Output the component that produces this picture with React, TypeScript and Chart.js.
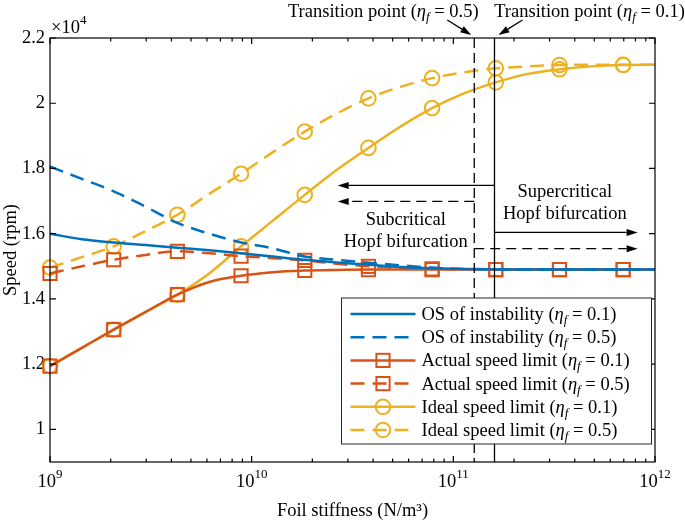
import React, { useEffect, useRef } from 'react';
import { Chart, registerables } from 'chart.js';

Chart.register(...registerables);

// ---------- data ----------
// Foil stiffness (N/m^3), 20 log-spaced samples
const stiffness = [
  1.0e9, 1.4384e9, 2.0691e9, 2.9764e9, 4.2813e9, 6.1585e9, 8.8587e9, 1.2743e10, 1.833e10, 2.6367e10,
  3.7927e10, 5.4556e10, 7.8476e10, 1.1288e11, 1.6238e11, 2.3357e11, 3.3598e11, 4.8329e11, 6.9519e11, 1.0e12,
];

// Speeds in rpm
const osEta01 = [16000, 15830, 15730, 15650, 15570, 15490, 15400, 15300, 15200, 15120, 15050, 14980, 14940, 14920, 14910, 14900, 14900, 14900, 14900, 14900];
const osEta05 = [18060, 17680, 17300, 16830, 16330, 16000, 15730, 15550, 15300, 15200, 15110, 15030, 14960, 14920, 14910, 14900, 14900, 14900, 14900, 14900];
const actualEta01 = [11940, 12500, 13060, 13600, 14130, 14520, 14710, 14820, 14870, 14890, 14900, 14900, 14900, 14900, 14900, 14900, 14900, 14900, 14900, 14900];
const actualEta05 = [14780, 15000, 15200, 15350, 15460, 15400, 15310, 15250, 15180, 15080, 15000, 14950, 14920, 14910, 14900, 14900, 14900, 14900, 14900, 14900];
const idealEta01 = [11940, 12500, 13060, 13600, 14130, 14780, 15610, 16400, 17190, 17950, 18630, 19280, 19850, 20300, 20640, 20900, 21040, 21130, 21170, 21180];
const idealEta05 = [14960, 15280, 15610, 16080, 16580, 17220, 17840, 18500, 19130, 19680, 20150, 20500, 20770, 20950, 21070, 21130, 21170, 21180, 21180, 21180];

const seriesNames = [
  'OS of instability',
  'OS of instability',
  'Actual speed limit',
  'Actual speed limit',
  'Ideal speed limit',
  'Ideal speed limit',
];
const seriesEta = ['0.1', '0.5', '0.1', '0.5', '0.1', '0.5'];

const xMajorTicks = [1e9, 1e10, 1e11, 1e12];
const xTickExponents = ['9', '10', '11', '12'];
const yTicks = [10000, 12000, 14000, 16000, 18000, 20000, 22000];

// transition points (N/m^3)
const transitionEta05 = 1.27e11;
const transitionEta01 = 1.6e11;

// annotation anchors in data space
const leftArrowTipX = 2.67e10;
const rightArrowTipX = 8.2e11;
const arrowSolidLeftY = 17480;
const arrowDashedLeftY = 16990;
const arrowSolidRightY = 16040;
const arrowDashedRightY = 15540;
const subTextX = 5.81e10;
const subTextY1 = 16255;
const subTextY2 = 15600;
const superTextX = 3.57e11;
const superTextY1 = 17120;
const superTextY2 = 16450;

// ---------- styles ----------
const BLUE = '#0072BD';
const RED = '#D95319';
const YELLOW = '#EDB120';
const FONT = '"Liberation Serif", "Times New Roman", serif';
const FS = 18.5;
const DASH = [14, 8];

type Part = { t: string; italic?: boolean; sub?: boolean; sup?: boolean };

function partFont(p: Part, size = FS) {
  const s = p.sub || p.sup ? Math.round(size * 0.7) : size;
  return `${p.italic ? 'italic ' : ''}${s}px ${FONT}`;
}

function drawRich(ctx: CanvasRenderingContext2D, parts: Part[], x: number, y: number, align: 'left' | 'center' | 'right', size = FS) {
  ctx.save();
  ctx.textBaseline = 'alphabetic';
  ctx.textAlign = 'left';
  const widths = parts.map((p) => {
    ctx.font = partFont(p, size);
    return ctx.measureText(p.t).width;
  });
  const total = widths.reduce((a, b) => a + b, 0);
  let cx = align === 'left' ? x : align === 'center' ? x - total / 2 : x - total;
  parts.forEach((p, i) => {
    ctx.font = partFont(p, size);
    const dy = p.sub ? 4 : p.sup ? -9 : 0;
    ctx.fillText(p.t, cx, y + dy);
    cx += widths[i];
  });
  ctx.restore();
}

function etaParts(prefix: string, eta: string): Part[] {
  return [{ t: prefix + ' (' }, { t: 'η', italic: true }, { t: 'f', italic: true, sub: true }, { t: ' = ' + eta + ')' }];
}

function arrow(ctx: CanvasRenderingContext2D, x1: number, y1: number, x2: number, y2: number, dashed: boolean) {
  const ang = Math.atan2(y2 - y1, x2 - x1);
  const hl = 11;
  const hw = 3.5;
  const bx = x2 - hl * Math.cos(ang);
  const by = y2 - hl * Math.sin(ang);
  ctx.save();
  ctx.strokeStyle = '#000';
  ctx.fillStyle = '#000';
  ctx.lineWidth = 1.3;
  ctx.setLineDash(dashed ? [10, 6] : []);
  ctx.beginPath();
  ctx.moveTo(x1, y1);
  ctx.lineTo(bx, by);
  ctx.stroke();
  ctx.setLineDash([]);
  ctx.beginPath();
  ctx.moveTo(x2, y2);
  ctx.lineTo(bx - hw * Math.sin(ang), by + hw * Math.cos(ang));
  ctx.lineTo(bx + hw * Math.sin(ang), by - hw * Math.cos(ang));
  ctx.closePath();
  ctx.fill();
  ctx.restore();
}

const markerIdx = (ctx: any) => ctx.dataIndex % 2 === 0 && ctx.dataIndex < stiffness.length - 1;

const decorPlugin = {
  id: 'decor',
  afterDatasetsDraw(chart: any) {
    const { ctx, chartArea, scales } = chart;
    const { left, right, top, bottom } = chartArea;
    const xs = scales.x;
    const ys = scales.y;
    ctx.save();
    // frame
    ctx.strokeStyle = '#000';
    ctx.lineWidth = 1.2;
    ctx.setLineDash([]);
    ctx.strokeRect(left, top, right - left, bottom - top);
    // x ticks
    ctx.beginPath();
    xMajorTicks.forEach((v) => {
      const px = xs.getPixelForValue(v);
      ctx.moveTo(px, bottom);
      ctx.lineTo(px, bottom - 6);
      ctx.moveTo(px, top);
      ctx.lineTo(px, top + 6);
    });
    for (let d = 0; d < xMajorTicks.length - 1; d++) {
      for (let m = 2; m <= 9; m++) {
        const px = xs.getPixelForValue(xMajorTicks[d] * m);
        ctx.moveTo(px, bottom);
        ctx.lineTo(px, bottom - 3.5);
        ctx.moveTo(px, top);
        ctx.lineTo(px, top + 3.5);
      }
    }
    yTicks.forEach((v) => {
      const py = ys.getPixelForValue(v);
      ctx.moveTo(left, py);
      ctx.lineTo(left + 6, py);
      ctx.moveTo(right, py);
      ctx.lineTo(right - 6, py);
    });
    ctx.stroke();

    // x tick labels (10^n)
    ctx.fillStyle = '#000';
    xMajorTicks.forEach((v, i) => {
      const px = xs.getPixelForValue(v);
      drawRich(ctx, [{ t: '10' }, { t: xTickExponents[i], sup: true }], px, bottom + 25, 'center');
    });
    // axis multiplier
    drawRich(ctx, [{ t: '×10' }, { t: '4', sup: true }], left + 1, top - 5, 'left');

    // transition lines
    const xd = xs.getPixelForValue(transitionEta05);
    const xsol = xs.getPixelForValue(transitionEta01);
    ctx.lineWidth = 1.3;
    ctx.setLineDash([10, 5]);
    ctx.beginPath();
    ctx.moveTo(xd, top);
    ctx.lineTo(xd, bottom);
    ctx.stroke();
    ctx.setLineDash([]);
    ctx.beginPath();
    ctx.moveTo(xsol, top);
    ctx.lineTo(xsol, bottom);
    ctx.stroke();

    // transition labels + arrows
    drawRich(ctx, etaParts('Transition point', '0.5'), xd - 91, top - 21, 'center');
    drawRich(ctx, etaParts('Transition point', '0.1'), xsol + 95, top - 21, 'center');
    arrow(ctx, xd - 27, top - 18, xd - 3, top - 3, false);
    arrow(ctx, xsol + 28, top - 18, xsol + 4, top - 3, false);

    // region arrows
    const xl = xs.getPixelForValue(leftArrowTipX);
    const xr = xs.getPixelForValue(rightArrowTipX);
    arrow(ctx, xsol, ys.getPixelForValue(arrowSolidLeftY), xl, ys.getPixelForValue(arrowSolidLeftY), false);
    arrow(ctx, xd, ys.getPixelForValue(arrowDashedLeftY), xl, ys.getPixelForValue(arrowDashedLeftY), true);
    arrow(ctx, xsol, ys.getPixelForValue(arrowSolidRightY), xr, ys.getPixelForValue(arrowSolidRightY), false);
    arrow(ctx, xd, ys.getPixelForValue(arrowDashedRightY), xr, ys.getPixelForValue(arrowDashedRightY), true);

    // region texts
    ctx.fillStyle = '#000';
    drawRich(ctx, [{ t: 'Subcritical' }], xs.getPixelForValue(subTextX), ys.getPixelForValue(subTextY1), 'center');
    drawRich(ctx, [{ t: 'Hopf bifurcation' }], xs.getPixelForValue(subTextX), ys.getPixelForValue(subTextY2), 'center');
    drawRich(ctx, [{ t: 'Supercritical' }], xs.getPixelForValue(superTextX), ys.getPixelForValue(superTextY1), 'center');
    drawRich(ctx, [{ t: 'Hopf bifurcation' }], xs.getPixelForValue(superTextX), ys.getPixelForValue(superTextY2), 'center');
    ctx.restore();
  },
  afterDraw(chart: any) {
    const { ctx, chartArea } = chart;
    const { right, bottom } = chartArea;
    const boxR = right - 3.5;
    const boxL = boxR - 310;
    const boxB = bottom - 18;
    const boxT = boxB - 146;
    ctx.save();
    ctx.fillStyle = '#fff';
    ctx.fillRect(boxL, boxT, boxR - boxL, boxB - boxT);
    ctx.strokeStyle = '#262626';
    ctx.lineWidth = 1;
    ctx.strokeRect(boxL, boxT, boxR - boxL, boxB - boxT);
    chart.data.datasets.forEach((ds: any, i: number) => {
      const cy = boxT + 16 + i * 23.2;
      const x1 = boxL + 9;
      const x2 = boxL + 74;
      ctx.strokeStyle = ds.borderColor;
      ctx.lineWidth = ds.borderWidth;
      ctx.setLineDash(ds.borderDash || []);
      ctx.beginPath();
      ctx.moveTo(x1, cy);
      ctx.lineTo(x2, cy);
      ctx.stroke();
      ctx.setLineDash([]);
      const mx = (x1 + x2) / 2;
      if (ds.pointStyle === 'rect') {
        const s = 6.6;
        ctx.lineWidth = 2;
        ctx.strokeRect(mx - s, cy - s, 2 * s, 2 * s);
      } else if (ds.pointStyle === 'circle' && ds.legendMarker) {
        ctx.lineWidth = 2;
        ctx.beginPath();
        ctx.arc(mx, cy, 7.3, 0, Math.PI * 2);
        ctx.stroke();
      }
      ctx.fillStyle = '#000';
      drawRich(ctx, etaParts(seriesNames[i], seriesEta[i]), x2 + 6, cy + 6, 'left');
    });
    ctx.restore();
  },
};

function makeDataset(label: string, data: number[], color: string, dashed: boolean, style: string | false) {
  return {
    label,
    data: stiffness.map((x, i) => ({ x, y: data[i] })),
    borderColor: color,
    backgroundColor: color,
    borderWidth: 2.5,
    borderDash: dashed ? DASH : [],
    pointStyle: style || 'circle',
    legendMarker: !!style,
    pointRadius: style ? (c: any) => (markerIdx(c) ? (style === 'rect' ? 9.3 : 7.3) : 0) : 0,
    pointBorderWidth: 2,
    pointBorderColor: color,
    pointBackgroundColor: 'rgba(0,0,0,0)',
    cubicInterpolationMode: 'monotone',
    clip: false,
  };
}

export default function App() {
  const ref = useRef<HTMLCanvasElement | null>(null);
  useEffect(() => {
    if (!ref.current) return;
    const chart = new Chart(ref.current, {
      type: 'line',
      data: {
        datasets: [
          makeDataset('OS of instability (η_f = 0.1)', osEta01, BLUE, false, false),
          makeDataset('OS of instability (η_f = 0.5)', osEta05, BLUE, true, false),
          makeDataset('Actual speed limit (η_f = 0.1)', actualEta01, RED, false, 'rect'),
          makeDataset('Actual speed limit (η_f = 0.5)', actualEta05, RED, true, 'rect'),
          makeDataset('Ideal speed limit (η_f = 0.1)', idealEta01, YELLOW, false, 'circle'),
          makeDataset('Ideal speed limit (η_f = 0.5)', idealEta05, YELLOW, true, 'circle'),
        ] as any,
      },
      options: {
        animation: false,
        responsive: false,
        maintainAspectRatio: false,
        events: [],
        layout: { padding: { top: 38, right: 30, left: 0, bottom: 0 } },
        plugins: {
          legend: { display: false },
          tooltip: { enabled: false },
          title: { display: false },
        },
        scales: {
          x: {
            type: 'logarithmic',
            min: 1e9,
            max: 1e12,
            afterBuildTicks: (s: any) => {
              s.ticks = xMajorTicks.map((v) => ({ value: v }));
            },
            afterFit: (s: any) => {
              s.height = 60;
            },
            ticks: { display: false },
            grid: { display: false, drawTicks: false },
            border: { display: false },
            title: {
              display: true,
              text: 'Foil stiffness (N/m³)',
              color: '#000',
              font: { family: FONT, size: FS },
              padding: { top: 0, bottom: 0 },
            },
          },
          y: {
            type: 'linear',
            min: 9000,
            max: 22000,
            afterBuildTicks: (s: any) => {
              s.ticks = yTicks.map((v) => ({ value: v }));
            },
            afterFit: (s: any) => {
              s.width = 50;
            },
            ticks: {
              color: '#000',
              font: { family: FONT, size: FS },
              padding: 5,
              callback: (v: any) => String(parseFloat((Number(v) / 1e4).toFixed(1))),
            },
            grid: { display: false, drawTicks: false },
            border: { display: false },
            title: {
              display: true,
              text: 'Speed (rpm)',
              color: '#000',
              font: { family: FONT, size: FS },
              padding: { top: 0, bottom: 0 },
            },
          },
        },
      } as any,
      plugins: [decorPlugin],
    });
    return () => chart.destroy();
  }, []);
  return (
    <div style={{ position: 'fixed', left: 0, top: 0, width: 685, height: 522, background: '#fff' }}>
      <canvas ref={ref} width={685} height={522} style={{ width: 685, height: 522, display: 'block' }} />
    </div>
  );
}
